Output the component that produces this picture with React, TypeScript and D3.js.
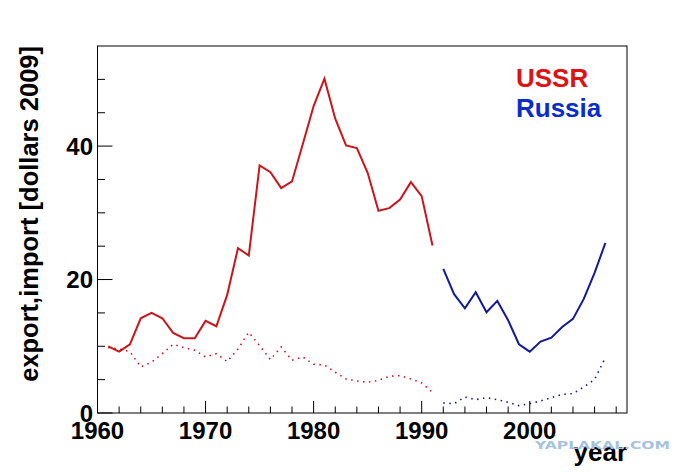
import * as d3 from "d3";

// USSR 1961-1991, Russia 1992-2007 (solid = export, dotted = import)
const ussrYears = [
  1961, 1962, 1963, 1964, 1965, 1966, 1967, 1968, 1969, 1970, 1971, 1972, 1973,
  1974, 1975, 1976, 1977, 1978, 1979, 1980, 1981, 1982, 1983, 1984, 1985, 1986,
  1987, 1988, 1989, 1990, 1991,
];
const ussrExport = [
  10.0, 9.2, 10.3, 14.2, 15.0, 14.2, 12.0, 11.2, 11.2, 13.8, 13.0, 17.7, 24.7,
  23.6, 37.1, 36.1, 33.7, 34.7, 40.3, 46.0, 50.1, 44.1, 40.1, 39.7, 36.0, 30.3,
  30.7, 32.0, 34.6, 32.5, 25.1,
];
const ussrImport = [
  9.8, 9.6, 9.2, 6.9, 7.6, 8.9, 10.3, 9.8, 9.4, 8.4, 8.9, 7.7, 9.6, 12.1, 10.1,
  8.0, 9.9, 7.9, 8.4, 7.3, 7.2, 6.1, 5.1, 4.8, 4.6, 4.9, 5.5, 5.6, 5.1, 4.5, 3.1,
];
const russiaYears = [
  1992, 1993, 1994, 1995, 1996, 1997, 1998, 1999, 2000, 2001, 2002, 2003, 2004,
  2005, 2006, 2007,
];
const russiaExport = [
  21.6, 17.8, 15.7, 18.1, 15.1, 16.8, 13.9, 10.3, 9.2, 10.7, 11.3, 12.9, 14.1,
  17.1, 21.0, 25.5,
];
const russiaImport = [
  1.5, 1.4, 2.4, 2.0, 2.3, 2.0, 1.6, 1.1, 1.4, 1.8, 2.3, 2.8, 2.9, 3.9, 5.0, 8.3,
];

const xLabels = [1960, 1970, 1980, 1990, 2000];
const yLabels = [0, 20, 40];

const W = 696;
const H = 472;
const font = "'Liberation Sans', Arial, Helvetica, sans-serif";

const redLine = "#c8161c";
const blueLine = "#121a96";

export default function App() {
  const x = d3.scaleLinear().domain([1960, 2009]).range([97.5, 627]);
  const y = d3.scaleLinear().domain([0, 55]).range([413, 46]);

  const line = d3
    .line<[number, number]>()
    .x((d) => x(d[0]))
    .y((d) => y(d[1]));

  const pairs = (xs: number[], vs: number[]) =>
    xs.map((yr, i) => [yr, vs[i]] as [number, number]);

  const series = [
    { d: line(pairs(ussrYears, ussrExport)), color: redLine, dotted: false },
    { d: line(pairs(ussrYears, ussrImport)), color: redLine, dotted: true },
    { d: line(pairs(russiaYears, russiaExport)), color: blueLine, dotted: false },
    { d: line(pairs(russiaYears, russiaImport)), color: blueLine, dotted: true },
  ];

  const [x0, x1] = x.range();
  const [y0, y1] = y.range();

  const xMinor = d3.range(1962, 2009, 2).filter((t) => t % 10 !== 0);
  const yMinor = d3.range(5, 55, 5).filter((t) => t % 20 !== 0);

  return (
    <svg
      width={W}
      height={H}
      style={{ position: "absolute", left: 0, top: 0, background: "white" }}
      fontFamily={font}
      fontWeight="bold"
    >
      <rect width={W} height={H} fill="white" />

      {/* X axis ticks */}
      {xLabels.map((t) => (
        <line key={t} x1={x(t)} x2={x(t)} y1={y0} y2={y0 - 12} stroke="black" />
      ))}
      {xMinor.map((t) => (
        <line key={t} x1={x(t)} x2={x(t)} y1={y0} y2={y0 - 6.5} stroke="black" />
      ))}
      {xLabels.map((t) => (
        <text key={t} x={x(t)} y={438.5} textAnchor="middle" fontSize={24}>
          {t}
        </text>
      ))}

      {/* Y axis ticks */}
      {yLabels.map((t) => (
        <line key={t} x1={x0} x2={x0 + 15} y1={y(t)} y2={y(t)} stroke="black" />
      ))}
      {yMinor.map((t) => (
        <line key={t} x1={x0} x2={x0 + 7.5} y1={y(t)} y2={y(t)} stroke="black" />
      ))}
      {yLabels.map((t) => (
        <text key={t} x={93} y={y(t) + 8.5} textAnchor="end" fontSize={24}>
          {t}
        </text>
      ))}

      {/* Lines */}
      {series.map((s, i) => (
        <path
          key={i}
          d={s.d ?? ""}
          fill="none"
          stroke={s.color}
          strokeWidth={s.dotted ? 1.6 : 2}
          strokeDasharray={s.dotted ? "1.5,4.5" : undefined}
        />
      ))}

      {/* Frame */}
      <rect
        x={x0}
        y={y1}
        width={x1 - x0}
        height={y0 - y1}
        fill="none"
        stroke="black"
      />

      {/* Titles */}
      <text
        transform={`translate(37.5, ${y1}) rotate(-90)`}
        textAnchor="end"
        fontSize={25.5}
      >
        export,import [dollars 2009]
      </text>
      <text x={x1} y={460.5} textAnchor="end" fontSize={26}>
        year
      </text>

      {/* Watermark */}
      <text
        x={535}
        y={448.5}
        fontSize={11}
        fontFamily="'DejaVu Sans', sans-serif"
        fontWeight="bold"
        fill="#a6c2de"
        textLength={135}
        lengthAdjust="spacingAndGlyphs"
      >
        YAPLAKAL.COM
      </text>

      {/* Legend */}
      <text x={516} y={86.5} fontSize={26} fill="#dc1414">
        USSR
      </text>
      <text x={516} y={116.5} fontSize={26} fill="#0a2ccc">
        Russia
      </text>
    </svg>
  );
}
